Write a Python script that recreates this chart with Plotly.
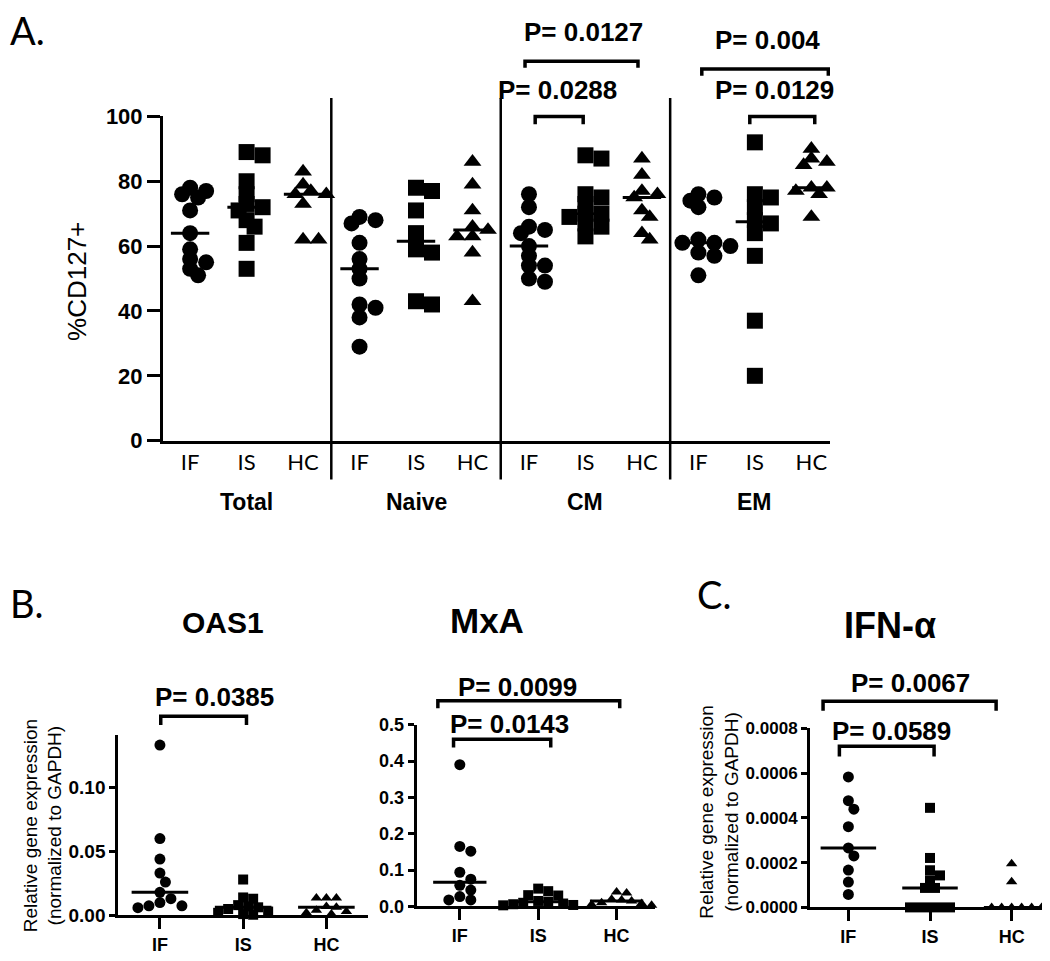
import numpy as np
import plotly.graph_objects as go

# the page puts the plot 8px in from the top-left corner, so the figure is
# sized to fill the rest of the 1050x961 window
OFF = 8
W, H = 1050 - OFF, 961 - OFF

groups = ["IF", "IS", "HC"]
subsets = ["Total", "Naive", "CM", "EM"]

# Panel A: %CD127+ per T cell subset
total_if = [78, 77, 76, 75, 71, 64, 59, 56, 55, 53, 51]
total_is = [89, 88, 80, 76, 73, 72, 71, 68, 66, 61, 53]
total_hc = [83, 79, 77, 76, 76, 73, 62, 62]
naive_if = [69, 68, 67, 61, 56, 53, 50, 42, 41, 38, 29]
naive_is = [78, 77, 71, 64, 59, 58, 43, 42]
naive_hc = [86, 79, 71, 66, 65, 63, 63, 58, 43]
cm_if = [76, 72, 66, 65, 64, 60, 57, 54, 54, 50, 49]
cm_is = [88, 87, 76, 75, 73, 70, 70, 69, 67, 66, 63]
cm_hc = [87, 82, 77, 76, 75, 71, 69, 64, 62]
em_if = [76, 75, 74, 72, 62, 61, 61, 60, 58, 57, 51]
em_is = [92, 76, 75, 72, 68, 67, 64, 57, 37, 20]
em_hc = [90, 87, 86, 85, 78, 78, 77, 76, 69]

# Panel B/C: relative gene expression (normalized to GAPDH)
oas1_if = [0.133, 0.060, 0.044, 0.033, 0.026, 0.018, 0.013, 0.010, 0.0075, 0.0075, 0.006]
oas1_is = [0.028, 0.014, 0.013, 0.008, 0.007, 0.0063, 0.005, 0.003, 0.002, 0.001, 0.0005]
oas1_hc = [0.0135, 0.0135, 0.0135, 0.007, 0.0063, 0.004, 0.003, 0.002, 0.001]
mxa_if = [0.39, 0.165, 0.152, 0.094, 0.075, 0.058, 0.045, 0.027, 0.018, 0.018]
mxa_is = [0.049, 0.042, 0.031, 0.030, 0.015, 0.013, 0.010, 0.008, 0.006, 0.004, 0.003]
mxa_hc = [0.040, 0.037, 0.020, 0.018, 0.015, 0.010, 0.008, 0.005, 0.003]
ifn_if = [0.000583, 0.000477, 0.000439, 0.000361, 0.000266, 0.000230, 0.000167, 0.000113, 0.000058]
ifn_is = [0.000445, 0.000221, 0.000166, 0.000143, 0.000121, 0.000087, 0.000087, 0, 0, 0, 0, 0]
ifn_hc = [0.000195, 0.000115, 0, 0, 0, 0, 0, 0]

panel_a = [[total_if, total_is, total_hc], [naive_if, naive_is, naive_hc],
           [cm_if, cm_is, cm_hc], [em_if, em_is, em_hc]]

symbols = ["circle", "square", "triangle-up"]
BOLD = "Liberation Sans, Arial, sans-serif"
LIGHT = "Lato, Open Sans, sans-serif"

# subplot boxes in window pixels, plus axis ranges and swarm spacing
panels = {
    "A":    dict(x="x",  y="y",  px=(163, 830),   py=(107, 440),     xr=[-0.48, 11.33], yr=[0, 100],
                 sizes=[16, 16, 15.5], gap=0.6, reach=2),
    "OAS1": dict(x="x2", y="y2", px=(118.3, 368), py=(742.7, 927.5), xr=[-0.5, 2.5],    yr=[0, 0.1405],
                 sizes=[11, 10, 10], gap=0.85, reach=4),
    "MxA":  dict(x="x3", y="y3", px=(416.7, 655), py=(731.7, 918.3), xr=[-0.55, 2.49],  yr=[0, 0.5],
                 sizes=[11, 10, 10], gap=0.85, reach=4),
    "IFN":  dict(x="x4", y="y4", px=(810, 1050),  py=(735.5, 919.3), xr=[-0.47, 2.47],  yr=[0, 0.0008],
                 sizes=[11, 10, 10], gap=0.85, reach=4),
}


def fx(px):
    return (px - OFF) / W


def fy(py):
    return 1 - (py - OFF) / H


def swarm(vals, ppx, ppy, diam, gap, reach):
    # column scatter: push points sideways when they would pile up
    vals = np.asarray(vals, dtype=float)
    offs = np.zeros(len(vals))
    placed = []
    step = diam * 0.5
    cands = [0]
    for k in range(1, 2 * reach + 1):
        cands += [k, -k]
    for i in np.argsort(-vals):
        yp = vals[i] * ppy
        best, best_d = 0, -1
        for k in cands:
            xp = k * step
            d = min([np.hypot(xp - a, yp - b) for a, b in placed] or [1e9])
            if d >= diam * gap:
                best = xp
                break
            if d > best_d + 0.5:
                best, best_d = xp, d
        placed.append((best, yp))
        offs[i] = best / ppx
    return offs


fig = go.Figure()


def add_column(p, center, vals, k):
    ppx = (p["px"][1] - p["px"][0]) / (p["xr"][1] - p["xr"][0])
    ppy = (p["py"][1] - p["py"][0]) / (p["yr"][1] - p["yr"][0])
    size = p["sizes"][k]
    offs = swarm(vals, ppx, ppy, size, p["gap"], p["reach"])
    fig.add_trace(go.Scatter(
        x=center + offs, y=vals, mode="markers", xaxis=p["x"], yaxis=p["y"],
        marker=dict(symbol=symbols[k], size=size, color="black", line=dict(width=0)),
        cliponaxis=False, showlegend=False, hoverinfo="y"))
    m = float(np.median(vals))
    fig.add_trace(go.Scatter(
        x=[center - 0.34, center + 0.34], y=[m, m], mode="lines", xaxis=p["x"], yaxis=p["y"],
        line=dict(color="black", width=3), cliponaxis=False, showlegend=False, hoverinfo="skip"))


for g, cols in enumerate(panel_a):
    for k, vals in enumerate(cols):
        add_column(panels["A"], 3 * g + k, vals, k)

for name, cols in [("OAS1", [oas1_if, oas1_is, oas1_hc]),
                   ("MxA", [mxa_if, mxa_is, mxa_hc]),
                   ("IFN", [ifn_if, ifn_is, ifn_hc])]:
    for k, vals in enumerate(cols):
        add_column(panels[name], k, vals, k)


layout_axes = {}
for name, p in panels.items():
    xd = [fx(p["px"][0]), min(fx(p["px"][1]), 1.0)]
    yd = [fy(p["py"][1]), fy(p["py"][0])]
    xkey = "xaxis" + p["x"][1:]
    ykey = "yaxis" + p["y"][1:]
    if name == "A":
        xa = dict(tickvals=list(range(12)), ticktext=groups * 4, ticks="", ticklen=0,
                  tickfont=dict(family=LIGHT, size=22, color="black"))
        ya = dict(tickvals=[0, 20, 40, 60, 80, 100], ticks="outside", ticklen=13, tickwidth=3,
                  tickfont=dict(family=BOLD, size=22, color="black", weight="bold"))
    else:
        xa = dict(tickvals=[0, 1, 2], ticktext=groups, ticks="outside", ticklen=11, tickwidth=3,
                  tickfont=dict(family=BOLD, size=18, color="black", weight="bold"))
        ya = dict(ticks="outside", ticklen=6, tickwidth=3,
                  tickfont=dict(family=BOLD, size=18, color="black", weight="bold"))
        if name == "OAS1":
            ya.update(tickvals=[0, 0.05, 0.10], tickformat=".2f",
                      tickfont=dict(family=BOLD, size=19, color="black", weight="bold"))
        elif name == "MxA":
            ya.update(tickvals=[0, 0.1, 0.2, 0.3, 0.4, 0.5], tickformat=".1f")
        else:
            ya.update(tickvals=[0, 0.0002, 0.0004, 0.0006, 0.0008], tickformat=".4f",
                      tickfont=dict(family=BOLD, size=17, color="black", weight="bold"))
    xa.update(domain=xd, range=p["xr"], anchor=p["y"], showline=True, linewidth=3, linecolor="black",
              tickcolor="black", showgrid=False, zeroline=False, fixedrange=True)
    ya.update(domain=yd, range=p["yr"], anchor=p["x"], showline=True, linewidth=3, linecolor="black",
              tickcolor="black", showgrid=False, zeroline=False, fixedrange=True)
    layout_axes[xkey] = xa
    layout_axes[ykey] = ya


def yfrac(p, v):
    return (v - p["yr"][0]) / (p["yr"][1] - p["yr"][0])


shapes = []
annotations = []

# vertical separators between subsets in panel A
for xs in [2.5, 5.5, 8.5]:
    shapes.append(dict(type="line", xref="x", yref="y domain", x0=xs, x1=xs, y0=-0.12, y1=1.057,
                       line=dict(color="black", width=2.5)))

# significance brackets: panel, x0, x1, bar level, leg end, label, label x, label y
brackets = [
    ("A", 6.11, 6.96, 100, 97.6, "P= 0.0288", 6.51, 108.1),
    ("A", 5.93, 7.93, 117, 115, "P= 0.0127", 6.96, 126),
    ("A", 9.06, 11.3, 114.6, 112.5, "P= 0.004", 10.23, 123.6),
    ("A", 9.91, 11.06, 100, 97.6, "P= 0.0129", 10.35, 108.1),
    ("OAS1", 0.01, 1.04, 0.1555, 0.1487, "P= 0.0385", 0.66, 0.1707),
    ("MxA", -0.08, 1.16, 0.46, 0.4376, "P= 0.0143", 0.64, 0.5027),
    ("MxA", -0.28, 2.04, 0.566, 0.545, "P= 0.0099", 0.74, 0.604),
    ("IFN", -0.11, 1.05, 0.000720, 0.000674, "P= 0.0589", 0.53, 0.000790),
    ("IFN", -0.31, 1.81, 0.000921, 0.000879, "P= 0.0067", 0.755, 0.001001),
]
for name, x0, x1, yb, yl, txt, tx, ty in brackets:
    p = panels[name]
    fb, fl = yfrac(p, yb), yfrac(p, yl)
    shapes.append(dict(type="path", xref=p["x"], yref=p["y"] + " domain",
                       path=f"M{x0},{fl} L{x0},{fb} L{x1},{fb} L{x1},{fl}",
                       line=dict(color="black", width=3.5)))
    annotations.append(dict(text=txt, x=tx, y=yfrac(p, ty), xref=p["x"], yref=p["y"] + " domain",
                            showarrow=False, xanchor="center", yanchor="middle",
                            font=dict(family=BOLD, size=26, color="black", weight="bold")))

# subset labels under panel A
for g, s in enumerate(subsets):
    annotations.append(dict(text=s, x=3 * g + 1, y=fy(503), xref="x", yref="paper", showarrow=False,
                            xanchor="center", yanchor="middle",
                            font=dict(family=BOLD, size=23, color="black", weight="bold")))

# panel titles
for txt, x, y, size in [("OAS1", 223, 627, 30), ("MxA", 487, 625, 35), ("IFN-α", 890, 630, 36)]:
    annotations.append(dict(text=txt, x=fx(x), y=fy(y), xref="paper", yref="paper", showarrow=False,
                            xanchor="center", yanchor="middle",
                            font=dict(family=BOLD, size=size, color="black", weight="bold")))

# y-axis titles
annotations.append(dict(text="%CD127+", x=fx(77), y=fy(277), xref="paper", yref="paper",
                        showarrow=False, textangle=-90, xanchor="center", yanchor="middle",
                        font=dict(family=BOLD, size=26, color="black")))
for x, y in [(43, 836), (719, 822)]:
    annotations.append(dict(text="Relative gene expression<br>(normalized to GAPDH)", x=fx(x), y=fy(y),
                            xref="paper", yref="paper", showarrow=False, textangle=-90,
                            xanchor="center", yanchor="middle",
                            font=dict(family=BOLD, size=19, color="black")))

# panel letters
for txt, x, y in [("A.", 8, 18), ("B.", 8, 607), ("C.", 695, 597)]:
    annotations.append(dict(text=txt, x=fx(x), y=fy(y), xref="paper", yref="paper", showarrow=False,
                            xanchor="left", yanchor="middle",
                            font=dict(family=LIGHT, size=38, color="black")))

fig.update_layout(
    width=W, height=H,
    margin=dict(l=0, r=0, t=0, b=0),
    paper_bgcolor="white", plot_bgcolor="white",
    showlegend=False,
    shapes=shapes, annotations=annotations,
    **layout_axes,
)

fig.write_html("out.html")
